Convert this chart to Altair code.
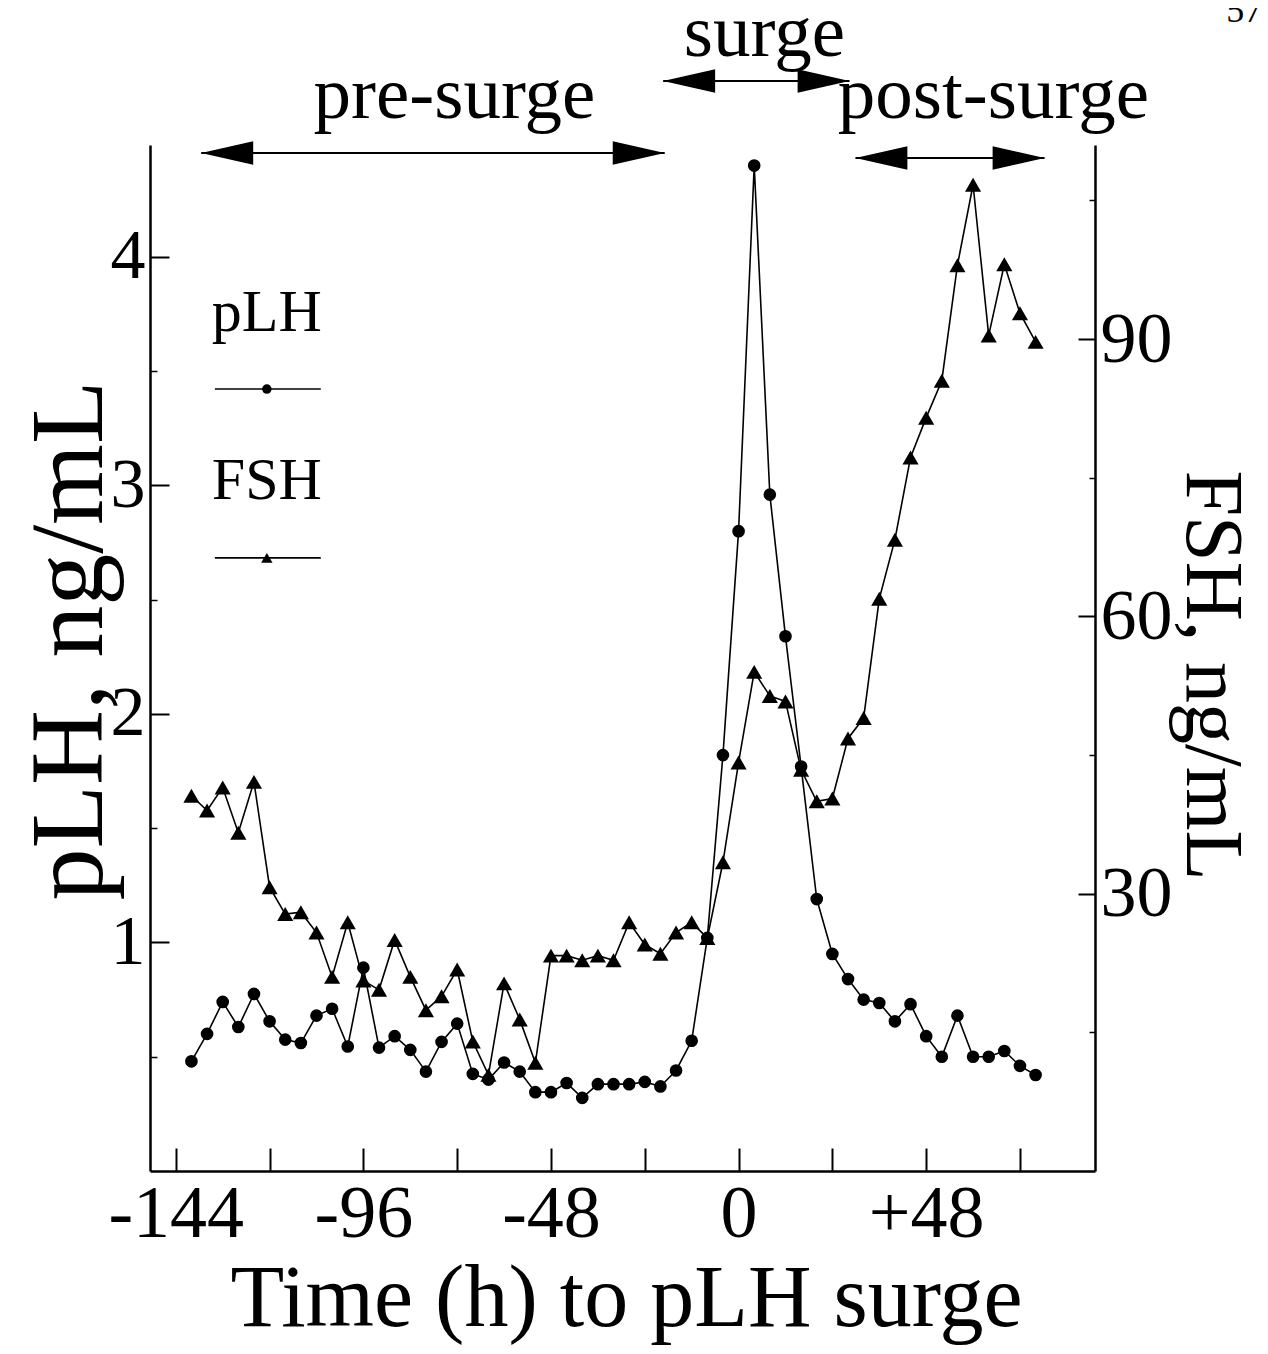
import altair as alt
import pandas as pd

FONT = "Liberation Serif"

# ---------------- data ----------------
hours = [-140, -136, -132, -128, -124, -120, -116, -112, -108, -104,
         -100, -96, -92, -88, -84, -80, -76, -72, -68, -64,
         -60, -56, -52, -48, -44, -40, -36, -32, -28, -24,
         -20, -16, -12, -8, -4, 0, 4, 8, 12, 16,
         20, 24, 28, 32, 36, 40, 44, 48, 52, 56,
         60, 64, 68, 72, 76]

plh = [0.48, 0.60, 0.74, 0.63, 0.775, 0.655, 0.575, 0.56, 0.68, 0.71,
       0.545, 0.89, 0.54, 0.59, 0.53, 0.435, 0.565, 0.645, 0.425, 0.40,
       0.475, 0.435, 0.345, 0.345, 0.385, 0.32, 0.38, 0.38, 0.38, 0.39,
       0.37, 0.44, 0.57, 1.02, 1.82, 2.80, 4.40, 2.96, 2.34, 1.77,
       1.19, 0.95, 0.84, 0.75, 0.735, 0.655, 0.73, 0.59, 0.50, 0.68,
       0.50, 0.50, 0.525, 0.46, 0.42]

fsh = [40.6, 39.0, 41.5, 36.6, 42.1, 30.7, 27.8, 28.0, 25.8, 21.0,
       26.9, 20.6, 19.6, 25.0, 21.0, 17.4, 18.9, 21.8, 14.0, 10.4,
       20.3, 16.4, 11.7, 23.3, 23.3, 22.8, 23.3, 22.8, 26.9, 24.5,
       23.5, 25.8, 26.9, 25.2, 33.4, 44.2, 54.0, 51.4, 50.8, 43.4,
       40.0, 40.3, 46.8, 49.0, 61.9, 68.3, 77.2, 81.5, 85.5, 98.0,
       106.7, 90.4, 98.1, 92.8, 89.7]

x_tick_values = [-144, -120, -96, -72, -48, -24, 0, 24, 48, 72]
x_label_values = [-144, -96, -48, 0, 48]
lh_label_values = [1, 2, 3, 4]
lh_minor_values = [0.5, 1.5, 2.5, 3.5]
fsh_label_values = [30, 60, 90]
fsh_minor_values = [15, 45, 75, 105]

phase_names = ["pre-surge", "surge", "post-surge"]
phase_start = [-137.5, -19.3, 29.9]
phase_end = [-18.9, 28.4, 78.3]

legend_names = ["pLH", "FSH"]
page_number = ["57"]

# ---------------- annotation placement (in axis units) ----------------
phase_arrow_level = [4.455, 4.77, 4.433]
phase_label_x = [-72.7, 6.6, 65.2]
phase_label_level = [4.608, 4.88, 4.608]
legend_text_level = [3.676, 2.941]
legend_line_level = [3.422, 2.683]
legend_x0, legend_x1, legend_xc = -134.0, -106.9, -120.7

df = pd.DataFrame({"t": hours, "pLH": plh, "FSH": fsh})
phases = pd.DataFrame({"name": phase_names, "start": phase_start, "end": phase_end,
                       "level": phase_arrow_level, "lx": phase_label_x,
                       "ly": phase_label_level})
legend = pd.DataFrame({"name": legend_names, "ty": legend_text_level,
                       "ly": legend_line_level, "x0": legend_x0, "x1": legend_x1,
                       "xc": legend_xc})
page = pd.DataFrame({"txt": page_number, "x": [129.4], "y": [5.03]})

W, H = 945, 1026
xs = alt.Scale(domain=[-150.6, 91.2], nice=False, zero=False)
ys_lh = alt.Scale(domain=[0, 4.49], nice=False, zero=False)
ys_fsh = alt.Scale(domain=[0, 111.0], nice=False, zero=False)

# ---------------- axes ----------------
x_main_axis = alt.Axis(
    orient="bottom", values=x_label_values,
    labelExpr="datum.value > 0 ? '+' + datum.value : '' + datum.value",
    ticks=False, tickSize=0, domain=True, domainColor="black", domainWidth=2.5,
    labelFont=FONT, labelFontSize=74, labelColor="black", labelPadding=7,
    labelFlush=False, labelOverlap=False,
    title="Time (h) to pLH surge", titleFont=FONT, titleFontSize=88,
    titleFontWeight="normal", titleColor="black", titleX=476, titleY=154,
    titleAlign="center", titleBaseline="alphabetic", titleAngle=0, grid=False)
x_tick_axis = alt.Axis(
    orient="bottom", values=x_tick_values, labels=False, domain=False,
    ticks=True, tickSize=23, offset=-23, tickWidth=2, tickColor="black",
    title=None, grid=False)

lh_main_axis = alt.Axis(
    orient="left", values=lh_label_values, format="d",
    ticks=False, tickSize=0, domain=True, domainColor="black", domainWidth=2.5,
    labelFont=FONT, labelFontSize=70, labelColor="black", labelPadding=5,
    labelOverlap=False,
    title="pLH, ng/mL", titleFont=FONT, titleFontSize=104, titleFontWeight="normal",
    titleColor="black", titleAngle=270, titleX=-80, titleY=495,
    titleAlign="center", titleBaseline="middle", grid=False)
lh_major_axis = alt.Axis(
    orient="left", values=lh_label_values, labels=False, domain=False,
    tickSize=19, offset=-19, tickWidth=2, tickColor="black", title=None, grid=False)
lh_minor_axis = alt.Axis(
    orient="left", values=lh_minor_values, labels=False, domain=False,
    tickSize=7, offset=-7, tickWidth=1.5, tickColor="black", title=None, grid=False)

fsh_main_axis = alt.Axis(
    orient="right", values=fsh_label_values, format="d",
    ticks=False, tickSize=0, domain=True, domainColor="black", domainWidth=2.5,
    labelFont=FONT, labelFontSize=72, labelColor="black", labelPadding=5,
    labelOverlap=False,
    title="FSH, ng/mL", titleFont=FONT, titleFontSize=82, titleFontWeight="normal",
    titleColor="black", titleAngle=90, titleX=116, titleY=530,
    titleAlign="center", titleBaseline="middle", grid=False)
fsh_major_axis = alt.Axis(
    orient="right", values=fsh_label_values, labels=False, domain=False,
    tickSize=17, offset=-17, tickWidth=2, tickColor="black", title=None, grid=False)
fsh_minor_axis = alt.Axis(
    orient="right", values=fsh_minor_values, labels=False, domain=False,
    tickSize=6, offset=-6, tickWidth=1.5, tickColor="black", title=None, grid=False)

base = alt.Chart(df)

lh_line = base.mark_line(color="black", strokeWidth=1.6).encode(
    x=alt.X("t:Q", scale=xs, axis=x_main_axis),
    y=alt.Y("pLH:Q", scale=ys_lh, axis=lh_main_axis))
lh_pts = base.mark_circle(size=160, color="black", opacity=1).encode(
    x=alt.X("t:Q", scale=xs, axis=x_tick_axis),
    y=alt.Y("pLH:Q", scale=ys_lh, axis=lh_major_axis))
lh_minor = base.mark_circle(size=1, opacity=0).encode(
    x=alt.X("t:Q", scale=xs, axis=None),
    y=alt.Y("pLH:Q", scale=ys_lh, axis=lh_minor_axis))

fsh_line = base.mark_line(color="black", strokeWidth=1.6).encode(
    x=alt.X("t:Q", scale=xs, axis=None),
    y=alt.Y("FSH:Q", scale=ys_fsh, axis=fsh_main_axis))
fsh_pts = base.mark_point(shape="triangle-up", filled=True, size=260,
                          color="black", opacity=1).encode(
    x=alt.X("t:Q", scale=xs, axis=None),
    y=alt.Y("FSH:Q", scale=ys_fsh, axis=fsh_major_axis))
fsh_minor = base.mark_circle(size=1, opacity=0).encode(
    x=alt.X("t:Q", scale=xs, axis=None),
    y=alt.Y("FSH:Q", scale=ys_fsh, axis=fsh_minor_axis))

# ---------------- phase arrows ----------------
LEFT_HEAD = "M0,0 L2,-0.45 L2,0.45 Z"
RIGHT_HEAD = "M0,0 L-2,-0.45 L-2,0.45 Z"
pb = alt.Chart(phases)
arrow_rule = pb.mark_rule(color="black", strokeWidth=2).encode(
    x=alt.X("start:Q", scale=xs, axis=None), x2="end:Q",
    y=alt.Y("level:Q", scale=ys_lh, axis=None))
arrow_left = pb.mark_point(shape=LEFT_HEAD, filled=True, size=2700,
                           color="black", opacity=1).encode(
    x=alt.X("start:Q", scale=xs, axis=None),
    y=alt.Y("level:Q", scale=ys_lh, axis=None))
arrow_right = pb.mark_point(shape=RIGHT_HEAD, filled=True, size=2700,
                            color="black", opacity=1).encode(
    x=alt.X("end:Q", scale=xs, axis=None),
    y=alt.Y("level:Q", scale=ys_lh, axis=None))
phase_text = pb.mark_text(font=FONT, fontSize=75, color="black", align="center",
                          baseline="alphabetic").encode(
    x=alt.X("lx:Q", scale=xs, axis=None),
    y=alt.Y("ly:Q", scale=ys_lh, axis=None),
    text="name:N")

# ---------------- legend ----------------
lb = alt.Chart(legend)
leg_text = lb.mark_text(font=FONT, fontSize=60, color="black", align="center",
                        baseline="alphabetic").encode(
    x=alt.X("xc:Q", scale=xs, axis=None),
    y=alt.Y("ty:Q", scale=ys_lh, axis=None),
    text="name:N")
leg_line = lb.mark_rule(color="black", strokeWidth=1.6).encode(
    x=alt.X("x0:Q", scale=xs, axis=None), x2="x1:Q",
    y=alt.Y("ly:Q", scale=ys_lh, axis=None))
leg_circle = lb.transform_filter("datum.name == 'pLH'").mark_circle(
    size=90, color="black", opacity=1).encode(
    x=alt.X("xc:Q", scale=xs, axis=None),
    y=alt.Y("ly:Q", scale=ys_lh, axis=None))
leg_tri = lb.transform_filter("datum.name == 'FSH'").mark_point(
    shape="triangle-up", filled=True, size=130, color="black", opacity=1).encode(
    x=alt.X("xc:Q", scale=xs, axis=None),
    y=alt.Y("ly:Q", scale=ys_lh, axis=None))

page_text = alt.Chart(page).mark_text(font=FONT, fontSize=36, color="black",
                                      align="center", baseline="alphabetic").encode(
    x=alt.X("x:Q", scale=xs, axis=None),
    y=alt.Y("y:Q", scale=ys_lh, axis=None),
    text="txt:N")

chart = alt.layer(
    lh_line, fsh_line, lh_pts, fsh_pts, lh_minor, fsh_minor,
    arrow_rule, arrow_left, arrow_right, phase_text,
    leg_line, leg_circle, leg_tri, leg_text, page_text
).resolve_scale(
    y="independent"
).resolve_axis(
    x="independent", y="independent"
).properties(
    width=W, height=H,
    autosize=alt.AutoSizeParams(type="none"),
    padding={"left": 142, "top": 137, "right": 165, "bottom": 175},
    background="white",
).configure_view(stroke=None).configure_axis(grid=False)

chart.save("out.html", embed_options={"renderer": "svg", "actions": False})
